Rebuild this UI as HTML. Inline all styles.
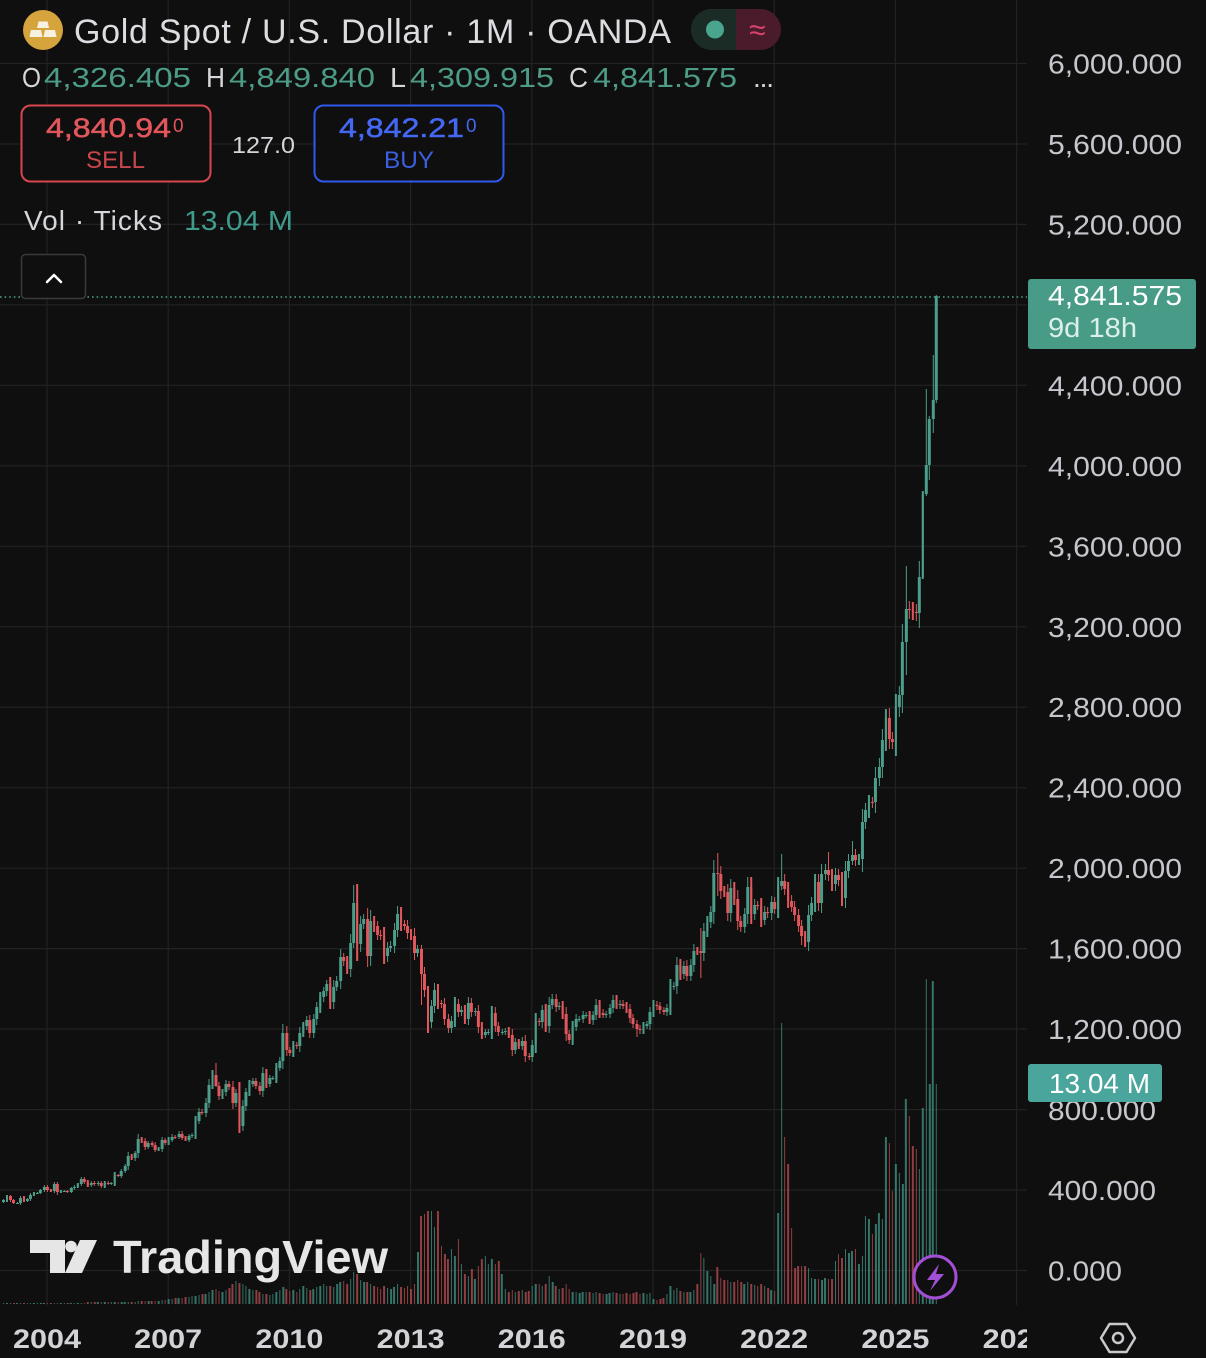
<!DOCTYPE html>
<html>
<head>
<meta charset="utf-8">
<style>
html,body{margin:0;padding:0;background:#0f0f0f;}
#wrap{position:relative;width:1206px;height:1358px;overflow:hidden;background:#0f0f0f;}
.L{position:absolute;left:0;top:0;display:block;}
text{font-family:"Liberation Sans",Arial,sans-serif;}
.cd{position:absolute;left:1.545px;top:0;width:938.25px;height:1358px;display:flex;transform:scaleX(0.99763);transform-origin:0 0;}
.cd i{flex:0 0 3.375px;width:3.375px;position:relative;height:100%;
 --M:max(var(--o),var(--c));--m:min(var(--o),var(--c));
 --H:var(--h,calc(var(--M) + (var(--M) - var(--m))*0.2 + var(--M)*0.012));
 --L:var(--l,calc(var(--m) - (var(--M) - var(--m))*0.2 - var(--m)*0.012));}
.cd i::before{content:"";position:absolute;left:1.06px;width:1.25px;
 top:calc(1270.3px - var(--H)*0.20117px);
 height:calc((var(--H) - var(--L))*0.20117px);background:currentColor;}
.cd i::after{content:"";position:absolute;left:0.29px;width:2.8px;
 top:calc(1270.3px - var(--M)*0.20117px);
 height:max(1px,calc((var(--M) - var(--m))*0.20117px));background:currentColor;}
.cd .u{color:#4c9d89}.cd .d{color:#e2575c}
.vl{position:absolute;left:1.545px;top:0;width:938.25px;height:1304px;display:flex;align-items:flex-end;transform:scaleX(0.99763);transform-origin:0 0;}
.vl b{flex:0 0 3.375px;width:3.375px;position:relative;display:block;}
.vl b::after{content:"";position:absolute;left:0.94px;width:1.5px;top:0;bottom:0;background:currentColor;opacity:.8;}
.vl .u{color:#3f8d7e}.vl .d{color:#b04a4e}
</style>
</head>
<body>
<div id="wrap">
<svg class="L" width="1206" height="1358" viewBox="0 0 1206 1358">
<rect x="0" y="0" width="1206" height="1358" fill="#0f0f0f"/>
<g stroke="#222222" stroke-width="1.2">
<line x1="0" y1="63.5" x2="1027" y2="63.5"/>
<line x1="0" y1="144" x2="1027" y2="144"/>
<line x1="0" y1="224.4" x2="1027" y2="224.4"/>
<line x1="0" y1="304.9" x2="1027" y2="304.9"/>
<line x1="0" y1="385.3" x2="1027" y2="385.3"/>
<line x1="0" y1="465.8" x2="1027" y2="465.8"/>
<line x1="0" y1="546.3" x2="1027" y2="546.3"/>
<line x1="0" y1="626.8" x2="1027" y2="626.8"/>
<line x1="0" y1="707.2" x2="1027" y2="707.2"/>
<line x1="0" y1="787.7" x2="1027" y2="787.7"/>
<line x1="0" y1="868.2" x2="1027" y2="868.2"/>
<line x1="0" y1="948.6" x2="1027" y2="948.6"/>
<line x1="0" y1="1029" x2="1027" y2="1029"/>
<line x1="0" y1="1109.6" x2="1027" y2="1109.6"/>
<line x1="0" y1="1190" x2="1027" y2="1190"/>
<line x1="0" y1="1270.5" x2="1027" y2="1270.5"/>
<line x1="47" y1="0" x2="47" y2="1305"/>
<line x1="168.2" y1="0" x2="168.2" y2="1305"/>
<line x1="289.4" y1="0" x2="289.4" y2="1305"/>
<line x1="410.6" y1="0" x2="410.6" y2="1305"/>
<line x1="531.8" y1="0" x2="531.8" y2="1305"/>
<line x1="653" y1="0" x2="653" y2="1305"/>
<line x1="774.2" y1="0" x2="774.2" y2="1305"/>
<line x1="895.4" y1="0" x2="895.4" y2="1305"/>
<line x1="1016.6" y1="0" x2="1016.6" y2="1305"/>
</g>
</svg>

<div class="vl">
<b class="u" style="height:1px"></b>
<b class="u" style="height:1px"></b><b class="d" style="height:1px"></b><b class="d" style="height:1px"></b><b class="u" style="height:1px"></b><b class="u" style="height:1px"></b><b class="d" style="height:1px"></b><b class="u" style="height:1px"></b><b class="u" style="height:1px"></b><b class="u" style="height:1px"></b><b class="u" style="height:1px"></b><b class="u" style="height:1px"></b><b class="u" style="height:1px"></b>
<b class="d" style="height:1px"></b><b class="d" style="height:1px"></b><b class="u" style="height:1px"></b><b class="d" style="height:1px"></b><b class="u" style="height:1px"></b><b class="u" style="height:1px"></b><b class="d" style="height:1px"></b><b class="u" style="height:1px"></b><b class="u" style="height:1px"></b><b class="u" style="height:1px"></b><b class="u" style="height:1px"></b><b class="d" style="height:1px"></b>
<b class="d" style="height:2px"></b><b class="u" style="height:2px"></b><b class="d" style="height:2px"></b><b class="u" style="height:2px"></b><b class="d" style="height:2px"></b><b class="u" style="height:2px"></b><b class="d" style="height:2px"></b><b class="u" style="height:2px"></b><b class="u" style="height:2px"></b><b class="d" style="height:2px"></b><b class="u" style="height:2px"></b><b class="u" style="height:2px"></b>
<b class="u" style="height:2px"></b><b class="d" style="height:2px"></b><b class="u" style="height:2px"></b><b class="u" style="height:3px"></b><b class="d" style="height:3px"></b><b class="d" style="height:3px"></b><b class="u" style="height:3px"></b><b class="d" style="height:3px"></b><b class="d" style="height:3px"></b><b class="u" style="height:3px"></b><b class="u" style="height:4px"></b><b class="d" style="height:4px"></b>
<b class="u" style="height:5px"></b><b class="u" style="height:5px"></b><b class="d" style="height:6px"></b><b class="u" style="height:6px"></b><b class="d" style="height:6px"></b><b class="d" style="height:7px"></b><b class="u" style="height:7px"></b><b class="u" style="height:8px"></b><b class="u" style="height:8px"></b><b class="u" style="height:9px"></b><b class="d" style="height:10px"></b><b class="u" style="height:10px"></b>
<b class="u" style="height:12px"></b><b class="u" style="height:14px"></b><b class="d" style="height:15px"></b><b class="d" style="height:13px"></b><b class="u" style="height:12px"></b><b class="u" style="height:14px"></b><b class="d" style="height:16px"></b><b class="d" style="height:20px"></b><b class="u" style="height:23px"></b><b class="d" style="height:21px"></b><b class="u" style="height:20px"></b><b class="u" style="height:18px"></b>
<b class="u" style="height:15px"></b><b class="u" style="height:14px"></b><b class="d" style="height:14px"></b><b class="d" style="height:12px"></b><b class="u" style="height:10px"></b><b class="d" style="height:10px"></b><b class="u" style="height:9px"></b><b class="u" style="height:10px"></b><b class="u" style="height:12px"></b><b class="u" style="height:14px"></b><b class="u" style="height:17px"></b><b class="d" style="height:15px"></b>
<b class="d" style="height:13px"></b><b class="u" style="height:14px"></b><b class="d" style="height:12px"></b><b class="u" style="height:15px"></b><b class="u" style="height:18px"></b><b class="u" style="height:16px"></b><b class="d" style="height:14px"></b><b class="u" style="height:15px"></b><b class="u" style="height:17px"></b><b class="u" style="height:18px"></b><b class="u" style="height:20px"></b><b class="u" style="height:18px"></b>
<b class="d" style="height:18px"></b><b class="u" style="height:17px"></b><b class="u" style="height:20px"></b><b class="u" style="height:22px"></b><b class="d" style="height:23px"></b><b class="d" style="height:20px"></b><b class="u" style="height:25px"></b><b class="u" style="height:32px"></b><b class="d" style="height:30px"></b><b class="u" style="height:24px"></b><b class="u" style="height:22px"></b><b class="d" style="height:22px"></b>
<b class="u" style="height:20px"></b><b class="d" style="height:18px"></b><b class="d" style="height:17px"></b><b class="d" style="height:15px"></b><b class="d" style="height:18px"></b><b class="u" style="height:16px"></b><b class="u" style="height:15px"></b><b class="u" style="height:17px"></b><b class="u" style="height:20px"></b><b class="d" style="height:17px"></b><b class="d" style="height:16px"></b><b class="d" style="height:18px"></b>
<b class="d" style="height:15px"></b><b class="d" style="height:20px"></b><b class="u" style="height:52px"></b><b class="d" style="height:88px"></b><b class="d" style="height:90px"></b><b class="d" style="height:93px"></b><b class="u" style="height:93px"></b><b class="u" style="height:77px"></b><b class="d" style="height:93px"></b><b class="d" style="height:58px"></b><b class="d" style="height:50px"></b><b class="d" style="height:45px"></b>
<b class="u" style="height:55px"></b><b class="u" style="height:48px"></b><b class="d" style="height:65px"></b><b class="u" style="height:40px"></b><b class="d" style="height:30px"></b><b class="u" style="height:28px"></b><b class="d" style="height:35px"></b><b class="u" style="height:25px"></b><b class="d" style="height:38px"></b><b class="d" style="height:45px"></b><b class="u" style="height:48px"></b><b class="u" style="height:40px"></b>
<b class="u" style="height:45px"></b><b class="d" style="height:40px"></b><b class="d" style="height:43px"></b><b class="u" style="height:30px"></b><b class="u" style="height:15px"></b><b class="d" style="height:12px"></b><b class="d" style="height:14px"></b><b class="u" style="height:12px"></b><b class="d" style="height:13px"></b><b class="u" style="height:14px"></b><b class="d" style="height:12px"></b><b class="d" style="height:13px"></b>
<b class="u" style="height:18px"></b><b class="u" style="height:20px"></b><b class="d" style="height:20px"></b><b class="u" style="height:18px"></b><b class="d" style="height:20px"></b><b class="u" style="height:28px"></b><b class="u" style="height:22px"></b><b class="d" style="height:18px"></b><b class="u" style="height:15px"></b><b class="d" style="height:16px"></b><b class="d" style="height:20px"></b><b class="d" style="height:15px"></b>
<b class="u" style="height:12px"></b><b class="u" style="height:12px"></b><b class="u" style="height:11px"></b><b class="u" style="height:12px"></b><b class="u" style="height:12px"></b><b class="d" style="height:12px"></b><b class="u" style="height:11px"></b><b class="u" style="height:12px"></b><b class="d" style="height:11px"></b><b class="d" style="height:10px"></b><b class="u" style="height:10px"></b><b class="u" style="height:11px"></b>
<b class="u" style="height:12px"></b><b class="d" style="height:11px"></b><b class="u" style="height:10px"></b><b class="d" style="height:10px"></b><b class="d" style="height:11px"></b><b class="d" style="height:10px"></b><b class="d" style="height:11px"></b><b class="d" style="height:12px"></b><b class="d" style="height:10px"></b><b class="u" style="height:11px"></b><b class="u" style="height:10px"></b><b class="u" style="height:11px"></b>
<b class="u" style="height:5px"></b><b class="d" style="height:4px"></b><b class="d" style="height:5px"></b><b class="d" style="height:6px"></b><b class="u" style="height:10px"></b><b class="u" style="height:18px"></b><b class="u" style="height:14px"></b><b class="u" style="height:16px"></b><b class="d" style="height:13px"></b><b class="u" style="height:12px"></b><b class="d" style="height:12px"></b><b class="u" style="height:12px"></b>
<b class="u" style="height:14px"></b><b class="d" style="height:20px"></b><b class="d" style="height:51px"></b><b class="u" style="height:46px"></b><b class="u" style="height:33px"></b><b class="u" style="height:28px"></b><b class="u" style="height:20px"></b><b class="d" style="height:37px"></b><b class="d" style="height:26px"></b><b class="d" style="height:24px"></b><b class="d" style="height:24px"></b><b class="u" style="height:22px"></b>
<b class="d" style="height:22px"></b><b class="d" style="height:24px"></b><b class="d" style="height:22px"></b><b class="u" style="height:20px"></b><b class="u" style="height:22px"></b><b class="d" style="height:20px"></b><b class="u" style="height:19px"></b><b class="d" style="height:18px"></b><b class="d" style="height:20px"></b><b class="u" style="height:18px"></b><b class="d" style="height:16px"></b><b class="u" style="height:14px"></b>
<b class="d" style="height:13px"></b><b class="u" style="height:91px"></b><b class="u" style="height:281px"></b><b class="d" style="height:167px"></b><b class="d" style="height:140px"></b><b class="d" style="height:76px"></b><b class="d" style="height:36px"></b><b class="d" style="height:38px"></b><b class="d" style="height:38px"></b><b class="d" style="height:38px"></b><b class="u" style="height:36px"></b><b class="u" style="height:26px"></b>
<b class="u" style="height:25px"></b><b class="d" style="height:25px"></b><b class="u" style="height:24px"></b><b class="u" style="height:26px"></b><b class="d" style="height:25px"></b><b class="d" style="height:25px"></b><b class="u" style="height:43px"></b><b class="d" style="height:50px"></b><b class="d" style="height:46px"></b><b class="u" style="height:55px"></b><b class="u" style="height:51px"></b><b class="u" style="height:53px"></b>
<b class="d" style="height:55px"></b><b class="u" style="height:40px"></b><b class="u" style="height:48px"></b><b class="u" style="height:88px"></b><b class="u" style="height:85px"></b><b class="d" style="height:70px"></b><b class="u" style="height:80px"></b><b class="u" style="height:91px"></b><b class="u" style="height:85px"></b><b class="u" style="height:167px"></b><b class="d" style="height:161px"></b><b class="d" style="height:113px"></b>
<b class="u" style="height:140px"></b><b class="u" style="height:131px"></b><b class="u" style="height:120px"></b><b class="u" style="height:205px"></b><b class="d" style="height:188px"></b><b class="d" style="height:158px"></b><b class="d" style="height:155px"></b><b class="u" style="height:135px"></b><b class="u" style="height:196px"></b><b class="u" style="height:325px"></b><b class="u" style="height:220px"></b><b class="u" style="height:323px"></b>
<b class="u" style="height:220px"></b>
</div>

<div class="cd">
<i class="u" style="--o:338;--c:347"></i>
<i class="u" style="--o:347;--c:368"></i><i class="d" style="--o:368;--c:347"></i><i class="d" style="--o:347;--c:334"></i><i class="u" style="--o:334;--c:336"></i><i class="u" style="--o:336;--c:361"></i><i class="d" style="--o:361;--c:346"></i><i class="u" style="--o:346;--c:354"></i><i class="u" style="--o:354;--c:375"></i><i class="u" style="--o:375;--c:385"></i><i class="u" style="--o:385;--c:386"></i><i class="u" style="--o:386;--c:398"></i><i class="u" style="--o:398;--c:416"></i>
<i class="d" style="--o:416;--c:399"></i><i class="d" style="--o:399;--c:396"></i><i class="u" style="--o:396;--c:427"></i><i class="d" style="--o:427;--c:388"></i><i class="u" style="--o:388;--c:393"></i><i class="u" style="--o:393;--c:395"></i><i class="d" style="--o:395;--c:391"></i><i class="u" style="--o:391;--c:407"></i><i class="u" style="--o:407;--c:415"></i><i class="u" style="--o:415;--c:428"></i><i class="u" style="--o:428;--c:453"></i><i class="d" style="--o:453;--c:438"></i>
<i class="d" style="--o:438;--c:422"></i><i class="u" style="--o:422;--c:435"></i><i class="d" style="--o:435;--c:428"></i><i class="u" style="--o:428;--c:435"></i><i class="d" style="--o:435;--c:417"></i><i class="u" style="--o:417;--c:436"></i><i class="d" style="--o:436;--c:429"></i><i class="u" style="--o:429;--c:433"></i><i class="u" style="--o:433;--c:473"></i><i class="d" style="--o:473;--c:470"></i><i class="u" style="--o:470;--c:495"></i><i class="u" style="--o:495;--c:517"></i>
<i class="u" style="--o:517;--c:569"></i><i class="d" style="--o:569;--c:556"></i><i class="u" style="--o:556;--c:582"></i><i class="u" style="--o:582;--c:654"></i><i class="d" style="--o:654;--c:643"></i><i class="d" style="--o:643;--c:613"></i><i class="u" style="--o:613;--c:633"></i><i class="d" style="--o:633;--c:624"></i><i class="d" style="--o:624;--c:599"></i><i class="u" style="--o:599;--c:604"></i><i class="u" style="--o:604;--c:646"></i><i class="d" style="--o:646;--c:632"></i>
<i class="u" style="--o:632;--c:650"></i><i class="u" style="--o:650;--c:665"></i><i class="d" style="--o:665;--c:662"></i><i class="u" style="--o:662;--c:680"></i><i class="d" style="--o:680;--c:659"></i><i class="d" style="--o:659;--c:650"></i><i class="u" style="--o:650;--c:666"></i><i class="u" style="--o:666;--c:673"></i><i class="u" style="--o:673;--c:743"></i><i class="u" style="--o:743;--c:789"></i><i class="d" style="--o:789;--c:783"></i><i class="u" style="--o:783;--c:834"></i>
<i class="u" style="--o:834;--c:923"></i><i class="u" style="--o:923;--c:972"></i><i class="d" style="--o:972;--c:917;--h:1032;--l:913"></i><i class="d" style="--o:917;--c:865"></i><i class="u" style="--o:865;--c:886"></i><i class="u" style="--o:886;--c:928"></i><i class="d" style="--o:928;--c:912"></i><i class="d" style="--o:912;--c:830"></i><i class="u" style="--o:830;--c:880"></i><i class="d" style="--o:880;--c:718;--h:935;--l:681"></i><i class="u" style="--o:718;--c:815"></i><i class="u" style="--o:815;--c:884"></i>
<i class="u" style="--o:884;--c:927"></i><i class="u" style="--o:927;--c:942"></i><i class="d" style="--o:942;--c:917"></i><i class="d" style="--o:917;--c:889"></i><i class="u" style="--o:889;--c:979"></i><i class="d" style="--o:979;--c:927"></i><i class="u" style="--o:927;--c:955"></i><i class="u" style="--o:955;--c:955"></i><i class="u" style="--o:955;--c:1008"></i><i class="u" style="--o:1008;--c:1040"></i><i class="u" style="--o:1040;--c:1181"></i><i class="d" style="--o:1181;--c:1096"></i>
<i class="d" style="--o:1096;--c:1081"></i><i class="u" style="--o:1081;--c:1118"></i><i class="d" style="--o:1118;--c:1113"></i><i class="u" style="--o:1113;--c:1180"></i><i class="u" style="--o:1180;--c:1213"></i><i class="u" style="--o:1213;--c:1244"></i><i class="d" style="--o:1244;--c:1181"></i><i class="u" style="--o:1181;--c:1247"></i><i class="u" style="--o:1247;--c:1307"></i><i class="u" style="--o:1307;--c:1357"></i><i class="u" style="--o:1357;--c:1386"></i><i class="u" style="--o:1386;--c:1421"></i>
<i class="d" style="--o:1421;--c:1332"></i><i class="u" style="--o:1332;--c:1410"></i><i class="u" style="--o:1410;--c:1439"></i><i class="u" style="--o:1439;--c:1556"></i><i class="d" style="--o:1556;--c:1536"></i><i class="d" style="--o:1536;--c:1500"></i><i class="u" style="--o:1500;--c:1628"></i><i class="u" style="--o:1628;--c:1826;--h:1913;--l:1602"></i><i class="d" style="--o:1826;--c:1620;--h:1921;--l:1535"></i><i class="u" style="--o:1620;--c:1722"></i><i class="u" style="--o:1722;--c:1746"></i><i class="d" style="--o:1746;--c:1564"></i>
<i class="u" style="--o:1564;--c:1737"></i><i class="d" style="--o:1737;--c:1710"></i><i class="d" style="--o:1710;--c:1669"></i><i class="d" style="--o:1669;--c:1664"></i><i class="d" style="--o:1664;--c:1560"></i><i class="u" style="--o:1560;--c:1604"></i><i class="u" style="--o:1604;--c:1614"></i><i class="u" style="--o:1614;--c:1691"></i><i class="u" style="--o:1691;--c:1772"></i><i class="d" style="--o:1772;--c:1719"></i><i class="d" style="--o:1719;--c:1712"></i><i class="d" style="--o:1712;--c:1675"></i>
<i class="d" style="--o:1675;--c:1663"></i><i class="d" style="--o:1663;--c:1578"></i><i class="u" style="--o:1578;--c:1596"></i><i class="d" style="--o:1596;--c:1472;--h:1617;--l:1321"></i><i class="d" style="--o:1472;--c:1393"></i><i class="d" style="--o:1393;--c:1234;--h:1415;--l:1180"></i><i class="u" style="--o:1234;--c:1313"></i><i class="u" style="--o:1313;--c:1395"></i><i class="d" style="--o:1395;--c:1328"></i><i class="d" style="--o:1328;--c:1323"></i><i class="d" style="--o:1323;--c:1250"></i><i class="d" style="--o:1250;--c:1202"></i>
<i class="u" style="--o:1202;--c:1240"></i><i class="u" style="--o:1240;--c:1326"></i><i class="d" style="--o:1326;--c:1284"></i><i class="u" style="--o:1284;--c:1296"></i><i class="d" style="--o:1296;--c:1250"></i><i class="u" style="--o:1250;--c:1327"></i><i class="d" style="--o:1327;--c:1282"></i><i class="u" style="--o:1282;--c:1287"></i><i class="d" style="--o:1287;--c:1210"></i><i class="d" style="--o:1210;--c:1172"></i><i class="u" style="--o:1172;--c:1183"></i><i class="u" style="--o:1183;--c:1184"></i>
<i class="u" style="--o:1184;--c:1279"></i><i class="d" style="--o:1279;--c:1213"></i><i class="d" style="--o:1213;--c:1183"></i><i class="u" style="--o:1183;--c:1183"></i><i class="u" style="--o:1183;--c:1190"></i><i class="d" style="--o:1190;--c:1172"></i><i class="d" style="--o:1172;--c:1095"></i><i class="u" style="--o:1095;--c:1133"></i><i class="d" style="--o:1133;--c:1115"></i><i class="u" style="--o:1115;--c:1142"></i><i class="d" style="--o:1142;--c:1065"></i><i class="d" style="--o:1065;--c:1061;--l:1046"></i>
<i class="u" style="--o:1061;--c:1118"></i><i class="u" style="--o:1118;--c:1238"></i><i class="d" style="--o:1238;--c:1232"></i><i class="u" style="--o:1232;--c:1293"></i><i class="d" style="--o:1293;--c:1215"></i><i class="u" style="--o:1215;--c:1321"></i><i class="u" style="--o:1321;--c:1351;--h:1375"></i><i class="d" style="--o:1351;--c:1309"></i><i class="u" style="--o:1309;--c:1316"></i><i class="d" style="--o:1316;--c:1275"></i><i class="d" style="--o:1275;--c:1173"></i><i class="d" style="--o:1173;--c:1146"></i>
<i class="u" style="--o:1146;--c:1211"></i><i class="u" style="--o:1211;--c:1249"></i><i class="u" style="--o:1249;--c:1249"></i><i class="u" style="--o:1249;--c:1268"></i><i class="u" style="--o:1268;--c:1268"></i><i class="d" style="--o:1268;--c:1242"></i><i class="u" style="--o:1242;--c:1269"></i><i class="u" style="--o:1269;--c:1321"></i><i class="d" style="--o:1321;--c:1280"></i><i class="d" style="--o:1280;--c:1271"></i><i class="u" style="--o:1271;--c:1275"></i><i class="u" style="--o:1275;--c:1303"></i>
<i class="u" style="--o:1303;--c:1345"></i><i class="d" style="--o:1345;--c:1318"></i><i class="u" style="--o:1318;--c:1325"></i><i class="d" style="--o:1325;--c:1315"></i><i class="d" style="--o:1315;--c:1298"></i><i class="d" style="--o:1298;--c:1253"></i><i class="d" style="--o:1253;--c:1224"></i><i class="d" style="--o:1224;--c:1201;--l:1160"></i><i class="d" style="--o:1201;--c:1192"></i><i class="u" style="--o:1192;--c:1215"></i><i class="u" style="--o:1215;--c:1222"></i><i class="u" style="--o:1222;--c:1282"></i>
<i class="u" style="--o:1282;--c:1321"></i><i class="d" style="--o:1321;--c:1313"></i><i class="d" style="--o:1313;--c:1292"></i><i class="d" style="--o:1292;--c:1284"></i><i class="u" style="--o:1284;--c:1305"></i><i class="u" style="--o:1305;--c:1409"></i><i class="u" style="--o:1409;--c:1413"></i><i class="u" style="--o:1413;--c:1520"></i><i class="d" style="--o:1520;--c:1472"></i><i class="u" style="--o:1472;--c:1513"></i><i class="d" style="--o:1513;--c:1464"></i><i class="u" style="--o:1464;--c:1517"></i>
<i class="u" style="--o:1517;--c:1589"></i><i class="d" style="--o:1589;--c:1585"></i><i class="d" style="--o:1585;--c:1577;--h:1704;--l:1451"></i><i class="u" style="--o:1577;--c:1686"></i><i class="u" style="--o:1686;--c:1730"></i><i class="u" style="--o:1730;--c:1781"></i><i class="u" style="--o:1781;--c:1975"></i><i class="d" style="--o:1975;--c:1968;--h:2075;--l:1863"></i><i class="d" style="--o:1968;--c:1886"></i><i class="d" style="--o:1886;--c:1879"></i><i class="d" style="--o:1879;--c:1776"></i><i class="u" style="--o:1776;--c:1898"></i>
<i class="d" style="--o:1898;--c:1847"></i><i class="d" style="--o:1847;--c:1734"></i><i class="d" style="--o:1734;--c:1708"></i><i class="u" style="--o:1708;--c:1769"></i><i class="u" style="--o:1769;--c:1906"></i><i class="d" style="--o:1906;--c:1770"></i><i class="u" style="--o:1770;--c:1814"></i><i class="d" style="--o:1814;--c:1813"></i><i class="d" style="--o:1813;--c:1743"></i><i class="u" style="--o:1743;--c:1783"></i><i class="d" style="--o:1783;--c:1774"></i><i class="u" style="--o:1774;--c:1829"></i>
<i class="d" style="--o:1829;--c:1797"></i><i class="u" style="--o:1797;--c:1909"></i><i class="u" style="--o:1909;--c:1937;--h:2070;--l:1890"></i><i class="d" style="--o:1937;--c:1897"></i><i class="d" style="--o:1897;--c:1837"></i><i class="d" style="--o:1837;--c:1807"></i><i class="d" style="--o:1807;--c:1766"></i><i class="d" style="--o:1766;--c:1711"></i><i class="d" style="--o:1711;--c:1661;--l:1615"></i><i class="d" style="--o:1661;--c:1633"></i><i class="u" style="--o:1633;--c:1768"></i><i class="u" style="--o:1768;--c:1824"></i>
<i class="u" style="--o:1824;--c:1928"></i><i class="d" style="--o:1928;--c:1827"></i><i class="u" style="--o:1827;--c:1969"></i><i class="u" style="--o:1969;--c:1990"></i><i class="d" style="--o:1990;--c:1963;--h:2079"></i><i class="d" style="--o:1963;--c:1919"></i><i class="u" style="--o:1919;--c:1965"></i><i class="d" style="--o:1965;--c:1940"></i><i class="d" style="--o:1940;--c:1849"></i><i class="u" style="--o:1849;--c:1983"></i><i class="u" style="--o:1983;--c:2036"></i><i class="u" style="--o:2036;--c:2063;--h:2135;--l:2016"></i>
<i class="d" style="--o:2063;--c:2039"></i><i class="u" style="--o:2039;--c:2044"></i><i class="u" style="--o:2044;--c:2230"></i><i class="u" style="--o:2230;--c:2286"></i><i class="u" style="--o:2286;--c:2327"></i><i class="d" style="--o:2327;--c:2326"></i><i class="u" style="--o:2326;--c:2447"></i><i class="u" style="--o:2447;--c:2503"></i><i class="u" style="--o:2503;--c:2635"></i><i class="u" style="--o:2635;--c:2744;--h:2790"></i><i class="d" style="--o:2744;--c:2643"></i><i class="d" style="--o:2643;--c:2625"></i>
<i class="u" style="--o:2625;--c:2798"></i><i class="u" style="--o:2798;--c:2858"></i><i class="u" style="--o:2858;--c:3124"></i><i class="u" style="--o:3124;--c:3288;--h:3500;--l:2957"></i><i class="d" style="--o:3288;--c:3280"></i><i class="d" style="--o:3280;--c:3272"></i><i class="d" style="--o:3272;--c:3266"></i><i class="u" style="--o:3266;--c:3448"></i><i class="u" style="--o:3448;--c:3858;--h:3872;--l:3436"></i><i class="u" style="--o:3858;--c:4002;--h:4381;--l:3850"></i><i class="u" style="--o:4002;--c:4230;--h:4245;--l:3930"></i><i class="u" style="--o:4230;--c:4326;--h:4550;--l:4160"></i>
<i class="u" style="--o:4326.4;--c:4841.6;--h:4849.8;--l:4309.9"></i>
</div>

<svg class="L" width="1206" height="1358" viewBox="0 0 1206 1358">
<defs>
<clipPath id="plotclip"><rect x="0" y="0" width="1027" height="1358"/></clipPath>
</defs>
<line x1="0" y1="297" x2="1027" y2="297" stroke="#4b9e8a" stroke-width="1.6" stroke-dasharray="1.6 3"/>

<g fill="#e6e6e6">
<path d="M30 1240 H65 V1273 H50 V1253 H30 Z"/>
<circle cx="71" cy="1246.5" r="5.8"/>
<polygon points="80,1240 97,1240 82,1273 65,1273"/>
<text x="113" y="1273" font-size="46" font-weight="bold" textLength="275" lengthAdjust="spacingAndGlyphs">TradingView</text>
</g>

<circle cx="935" cy="1277" r="21" fill="#0f0f0f" stroke="#a24fd6" stroke-width="3"/>
<path d="M939 1264 L927 1280 L935 1280 L930 1291 L944 1274 L936 1274 Z" fill="#a24fd6"/>

<circle cx="43" cy="30" r="20" fill="#d6a43c"/>
<g fill="#f7f1e1">
<polygon points="38.5,21.5 47.5,21.5 49,28 37,28"/>
<polygon points="31,30 41,30 42.5,37 29.5,37"/>
<polygon points="45,30 55,30 56.5,37 43.5,37"/>
</g>
<text x="74" y="43" font-size="34" fill="#dcdde0" textLength="597">Gold Spot / U.S. Dollar · 1M · OANDA</text>

<rect x="691" y="9" width="90" height="41" rx="20.5" fill="#4a1b2b"/>
<path d="M711.5 9 H736 V50 H711.5 A20.5 20.5 0 0 1 711.5 9 Z" fill="#1b2c27"/>
<circle cx="715" cy="29.5" r="9" fill="#4aa58e"/>
<text x="757.5" y="40" font-size="30" fill="#d8436e" text-anchor="middle">≈</text>

<g font-size="28">
<text x="22" y="87" fill="#d5d6da" textLength="19" lengthAdjust="spacingAndGlyphs">O</text>
<text x="44" y="87" fill="#4d9c87" textLength="147" lengthAdjust="spacingAndGlyphs">4,326.405</text>
<text x="206" y="87" fill="#d5d6da" textLength="19" lengthAdjust="spacingAndGlyphs">H</text>
<text x="229" y="87" fill="#4d9c87" textLength="146" lengthAdjust="spacingAndGlyphs">4,849.840</text>
<text x="390" y="87" fill="#d5d6da" textLength="16" lengthAdjust="spacingAndGlyphs">L</text>
<text x="410" y="87" fill="#4d9c87" textLength="144" lengthAdjust="spacingAndGlyphs">4,309.915</text>
<text x="569" y="87" fill="#d5d6da" textLength="19" lengthAdjust="spacingAndGlyphs">C</text>
<text x="593" y="87" fill="#4d9c87" textLength="144" lengthAdjust="spacingAndGlyphs">4,841.575</text>
<text x="753" y="87" fill="#d5d6da" textLength="21">...</text>
</g>

<rect x="21.5" y="105.5" width="189" height="76" rx="9" fill="#0f0f0f" stroke="#d8464e" stroke-width="2"/>
<text x="46" y="137" font-size="27" fill="#e2565c" stroke="#e2565c" stroke-width="0.5" textLength="125" lengthAdjust="spacingAndGlyphs">4,840.94</text>
<text x="173" y="132" font-size="19" fill="#e2565c">0</text>
<text x="86" y="168" font-size="24" fill="#c9474d" textLength="59" lengthAdjust="spacingAndGlyphs">SELL</text>

<text x="232" y="153" font-size="23" fill="#d5d6da" textLength="63" lengthAdjust="spacingAndGlyphs">127.0</text>

<rect x="314.5" y="105.5" width="189" height="76" rx="9" fill="#0f0f0f" stroke="#3158ec" stroke-width="2"/>
<text x="339" y="137" font-size="27" fill="#4468f2" stroke="#4468f2" stroke-width="0.5" textLength="125" lengthAdjust="spacingAndGlyphs">4,842.21</text>
<text x="466" y="132" font-size="19" fill="#4468f2">0</text>
<text x="384" y="168" font-size="24" fill="#3b5fe0" textLength="50" lengthAdjust="spacingAndGlyphs">BUY</text>

<text x="24" y="230" font-size="28" fill="#d5d6da" textLength="138">Vol · Ticks</text>
<text x="184" y="230" font-size="28" fill="#3f9c8c" textLength="109" lengthAdjust="spacingAndGlyphs">13.04 M</text>

<rect x="21.5" y="254.5" width="64" height="44" rx="4" fill="#0f0f0f" stroke="#3a3a3a" stroke-width="1.5"/>
<polyline points="47,282 54,275 61,282" fill="none" stroke="#ffffff" stroke-width="2.5" stroke-linecap="round" stroke-linejoin="round"/>

<g font-size="28" fill="#c5c7cc">
<text x="1048" y="73.5" textLength="134" lengthAdjust="spacingAndGlyphs">6,000.000</text>
<text x="1048" y="154" textLength="134" lengthAdjust="spacingAndGlyphs">5,600.000</text>
<text x="1048" y="234.4" textLength="134" lengthAdjust="spacingAndGlyphs">5,200.000</text>
<text x="1048" y="395.3" textLength="134" lengthAdjust="spacingAndGlyphs">4,400.000</text>
<text x="1048" y="475.8" textLength="134" lengthAdjust="spacingAndGlyphs">4,000.000</text>
<text x="1048" y="556.3" textLength="134" lengthAdjust="spacingAndGlyphs">3,600.000</text>
<text x="1048" y="636.8" textLength="134" lengthAdjust="spacingAndGlyphs">3,200.000</text>
<text x="1048" y="717.2" textLength="134" lengthAdjust="spacingAndGlyphs">2,800.000</text>
<text x="1048" y="797.7" textLength="134" lengthAdjust="spacingAndGlyphs">2,400.000</text>
<text x="1048" y="878.2" textLength="134" lengthAdjust="spacingAndGlyphs">2,000.000</text>
<text x="1048" y="958.6" textLength="134" lengthAdjust="spacingAndGlyphs">1,600.000</text>
<text x="1048" y="1039" textLength="134" lengthAdjust="spacingAndGlyphs">1,200.000</text>
<text x="1048" y="1120" textLength="108" lengthAdjust="spacingAndGlyphs">800.000</text>
<text x="1048" y="1200" textLength="108" lengthAdjust="spacingAndGlyphs">400.000</text>
<text x="1048" y="1280.5" textLength="74" lengthAdjust="spacingAndGlyphs">0.000</text>
</g>

<rect x="1028" y="279" width="168" height="70" rx="3" fill="#489b86"/>
<text x="1048" y="305" font-size="28" fill="#ffffff" textLength="134" lengthAdjust="spacingAndGlyphs">4,841.575</text>
<text x="1048" y="337" font-size="28" fill="#dcf0eb" textLength="89" lengthAdjust="spacingAndGlyphs">9d 18h</text>

<rect x="1028" y="1064" width="134" height="38" rx="3" fill="#4aa69c"/>
<text x="1049" y="1093" font-size="28" fill="#ffffff" textLength="101" lengthAdjust="spacingAndGlyphs">13.04 M</text>

<g font-size="27" font-weight="bold" fill="#d2d3d6" text-anchor="middle" clip-path="url(#plotclip)">
<text x="47" y="1348" textLength="68" lengthAdjust="spacingAndGlyphs">2004</text>
<text x="168.2" y="1348" textLength="68" lengthAdjust="spacingAndGlyphs">2007</text>
<text x="289.4" y="1348" textLength="68" lengthAdjust="spacingAndGlyphs">2010</text>
<text x="410.6" y="1348" textLength="68" lengthAdjust="spacingAndGlyphs">2013</text>
<text x="531.8" y="1348" textLength="68" lengthAdjust="spacingAndGlyphs">2016</text>
<text x="653" y="1348" textLength="68" lengthAdjust="spacingAndGlyphs">2019</text>
<text x="774.2" y="1348" textLength="68" lengthAdjust="spacingAndGlyphs">2022</text>
<text x="895.4" y="1348" textLength="68" lengthAdjust="spacingAndGlyphs">2025</text>
<text x="1016.6" y="1348" textLength="68" lengthAdjust="spacingAndGlyphs">2028</text>
</g>

<polygon points="1101,1338 1109.5,1324 1126.5,1324 1135,1338 1126.5,1352 1109.5,1352" fill="none" stroke="#c8c9cc" stroke-width="2.5" stroke-linejoin="round"/>
<circle cx="1118" cy="1338" r="5" fill="none" stroke="#c8c9cc" stroke-width="2.5"/>
</svg>
</div>
</body>
</html>
